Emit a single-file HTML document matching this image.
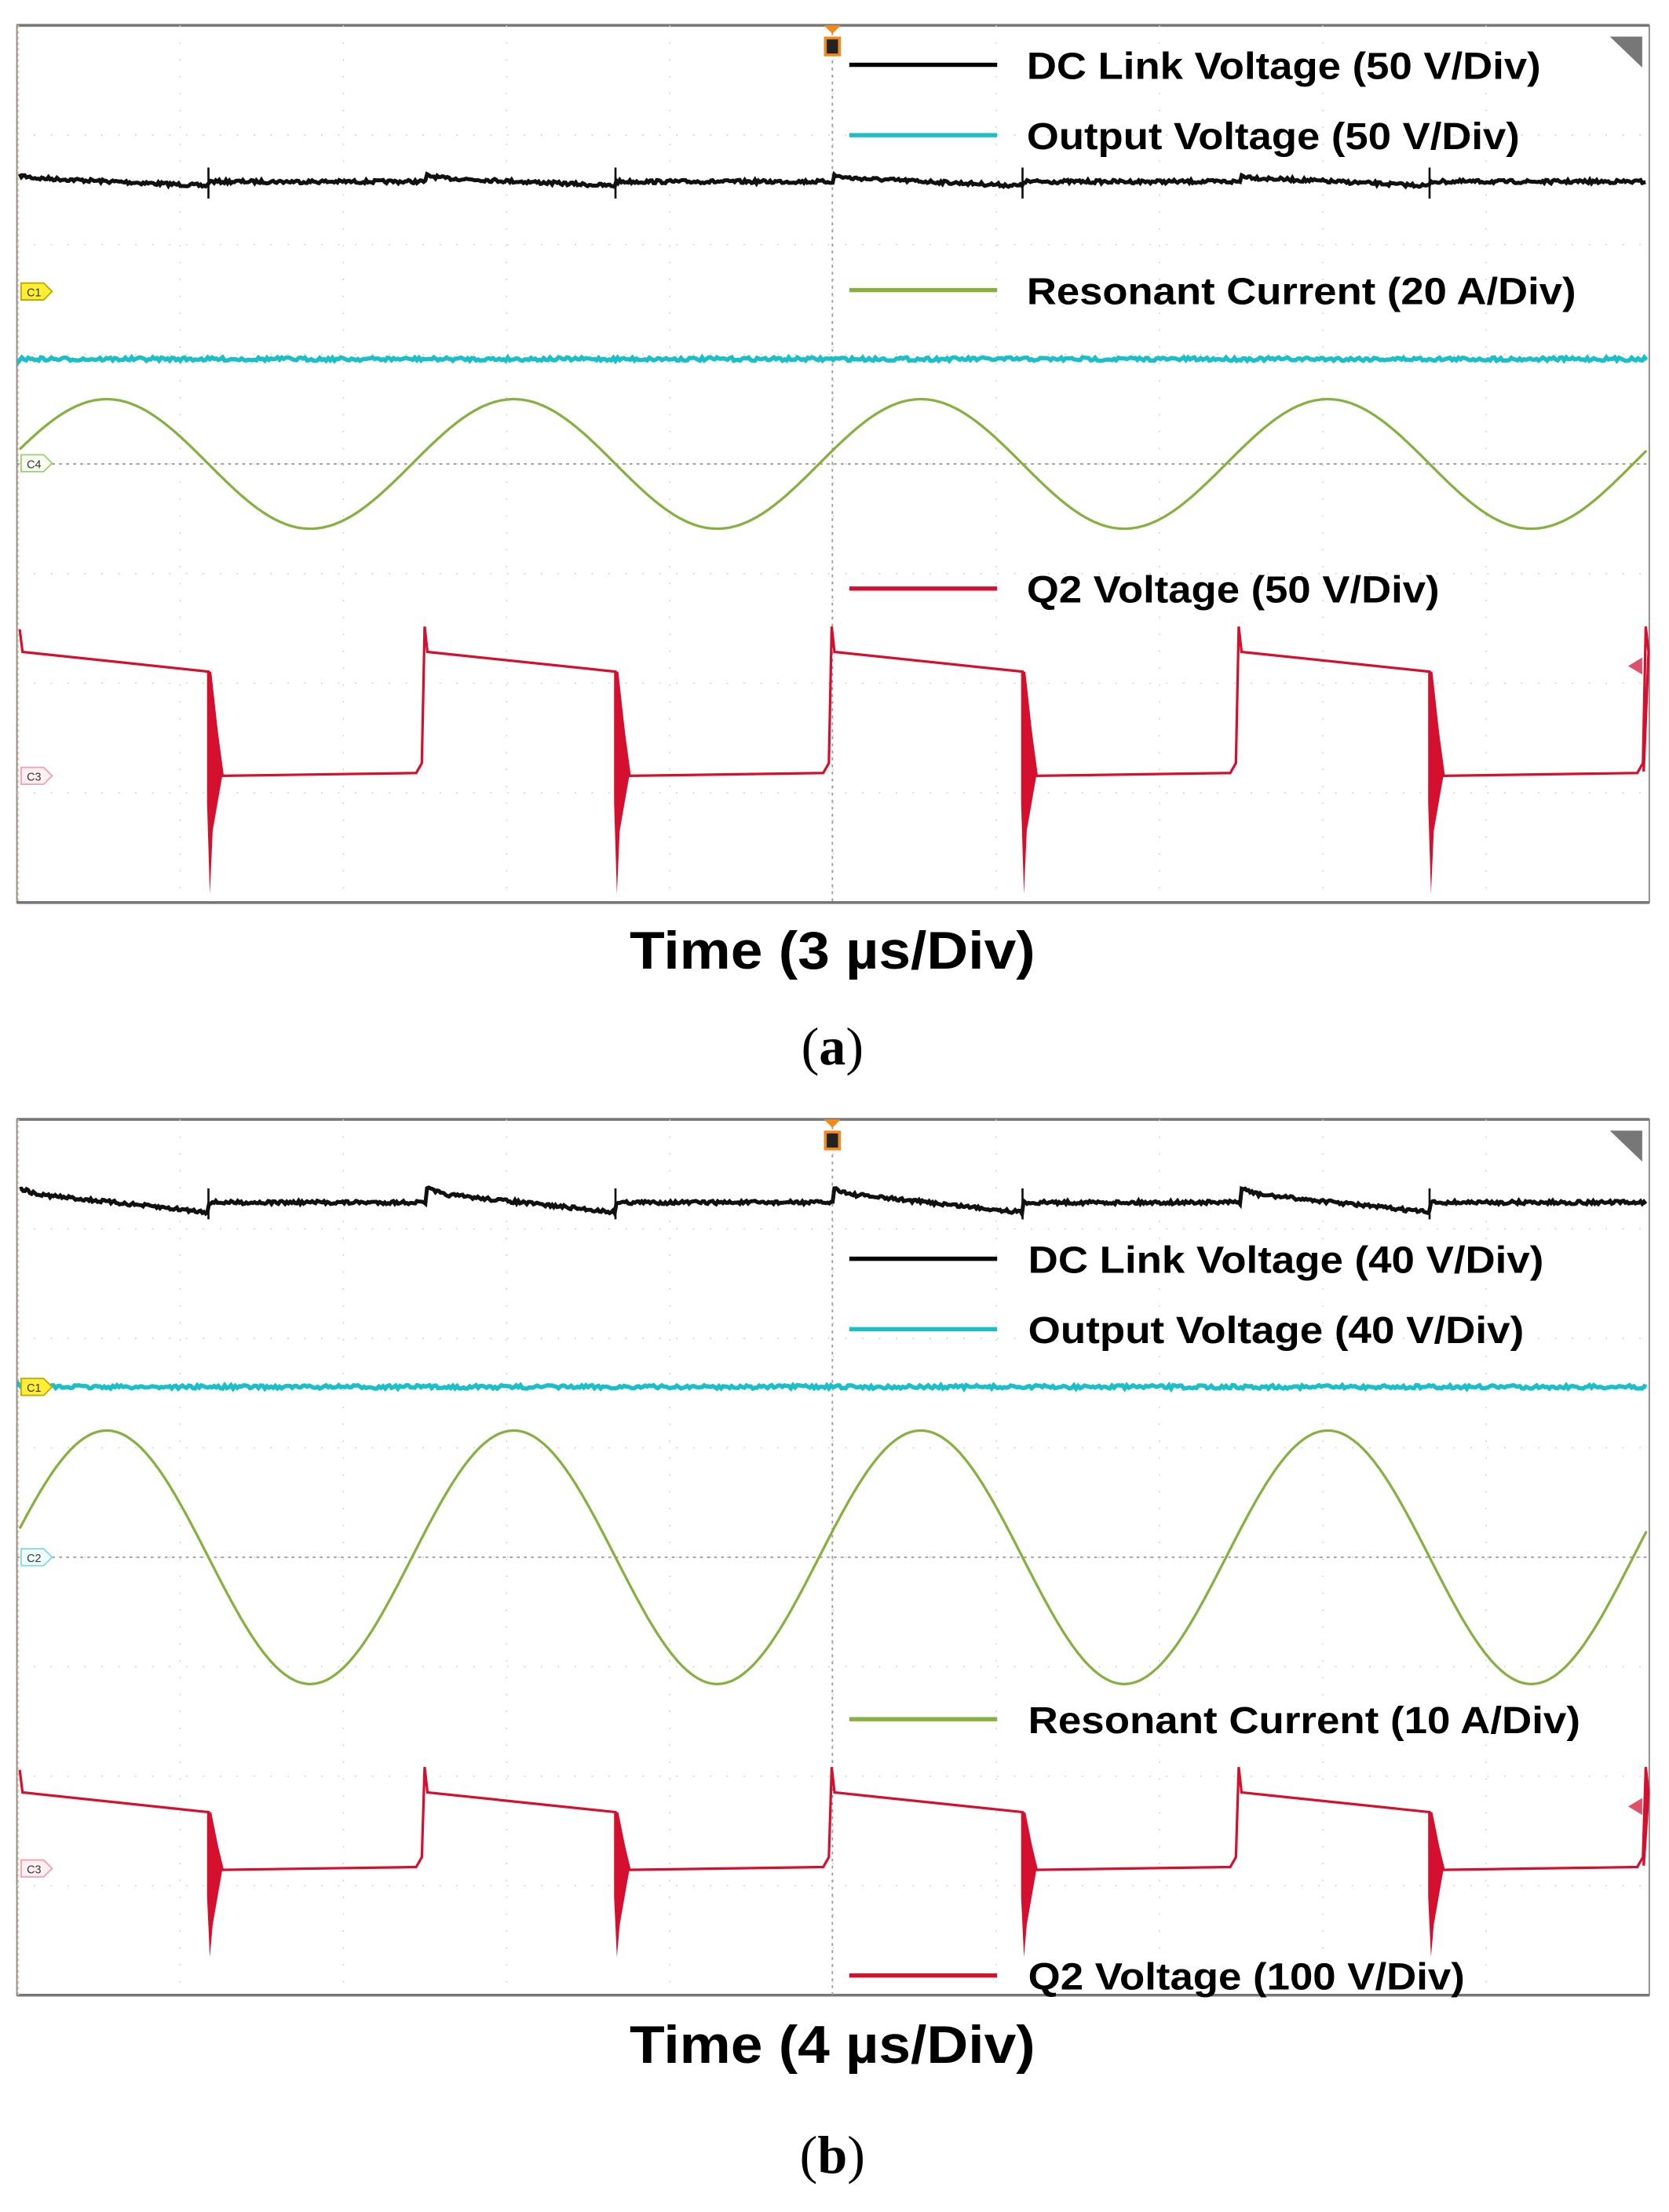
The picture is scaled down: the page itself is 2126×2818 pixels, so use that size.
<!DOCTYPE html>
<html><head><meta charset="utf-8">
<style>html,body{margin:0;padding:0;background:#fff}svg{display:block}</style>
</head><body>
<svg id="s" width="2126" height="2818" viewBox="0 0 1185 1571" preserveAspectRatio="none" xmlns="http://www.w3.org/2000/svg">
<rect width="1185" height="1571" fill="#fff"/>
<g id="g"></g>
<g font-family="Liberation Sans, Arial, sans-serif" font-weight="bold" font-size="27" fill="#000">
<line x1="603" y1="46" x2="708" y2="46" stroke="#000" stroke-width="3"/>
<text x="729" y="56" textLength="365" lengthAdjust="spacingAndGlyphs">DC Link Voltage (50 V/Div)</text>
<line x1="603" y1="96" x2="708" y2="96" stroke="#1bbfc8" stroke-width="3"/>
<text x="729" y="106" textLength="350" lengthAdjust="spacingAndGlyphs">Output Voltage (50 V/Div)</text>
<line x1="603" y1="206" x2="708" y2="206" stroke="#86b040" stroke-width="3"/>
<text x="729" y="216" textLength="390" lengthAdjust="spacingAndGlyphs">Resonant Current (20 A/Div)</text>
<line x1="603" y1="418" x2="708" y2="418" stroke="#d5102e" stroke-width="3"/>
<text x="729" y="428" textLength="293" lengthAdjust="spacingAndGlyphs">Q2 Voltage (50 V/Div)</text>

<line x1="603" y1="894" x2="708" y2="894" stroke="#000" stroke-width="3"/>
<text x="730" y="904" textLength="366" lengthAdjust="spacingAndGlyphs">DC Link Voltage (40 V/Div)</text>
<line x1="603" y1="944" x2="708" y2="944" stroke="#1bbfc8" stroke-width="3"/>
<text x="730" y="954" textLength="352" lengthAdjust="spacingAndGlyphs">Output Voltage (40 V/Div)</text>
<line x1="603" y1="1221" x2="708" y2="1221" stroke="#86b040" stroke-width="3"/>
<text x="730" y="1231" textLength="392" lengthAdjust="spacingAndGlyphs">Resonant Current (10 A/Div)</text>
<line x1="603" y1="1403" x2="708" y2="1403" stroke="#d5102e" stroke-width="3"/>
<text x="730" y="1413" textLength="310" lengthAdjust="spacingAndGlyphs">Q2 Voltage (100 V/Div)</text>

<text x="591" y="688" font-size="38" text-anchor="middle" textLength="288" lengthAdjust="spacingAndGlyphs">Time (3 µs/Div)</text>
<text x="591" y="1465" font-size="38" text-anchor="middle" textLength="288" lengthAdjust="spacingAndGlyphs">Time (4 µs/Div)</text>
</g>
<g font-family="Liberation Serif, serif" font-size="38" text-anchor="middle">
<text x="591" y="756"><tspan>(</tspan><tspan font-weight="bold">a</tspan><tspan>)</tspan></text>
<text x="591" y="1543"><tspan>(</tspan><tspan font-weight="bold">b</tspan><tspan>)</tspan></text>
</g>
</svg>
<script>
(function(){
var g=document.getElementById('g'),NS='http://www.w3.org/2000/svg';
function el(t,a){var e=document.createElementNS(NS,t);for(var k in a)e.setAttribute(k,a[k]);g.appendChild(e);return e;}
var seed=7;function rnd(){seed=(seed*16807)%2147483647;return seed/2147483647-0.5;}
function panel(T,B,o){
 var L=12,R=1171,W=R-L,H=B-T,cy=(T+B)/2;
 el('rect',{x:L,y:T,width:W,height:H,fill:'#fff',stroke:'#888',"stroke-width":1});
 el('line',{x1:L,y1:T,x2:R,y2:T,stroke:'#777',"stroke-width":2});
 el('line',{x1:L,y1:B,x2:R,y2:B,stroke:'#777',"stroke-width":2});
 el('line',{x1:L+1,y1:T,x2:L+1,y2:B,stroke:'#f2c89a',"stroke-width":1,"stroke-dasharray":"2,2"});
 for(var i=1;i<10;i++){var x=L+W*i/10;el('line',{x1:x,y1:T,x2:x,y2:B,stroke:'#ccc',"stroke-width":0.8,"stroke-dasharray":"1,11"});}
 for(var j=1;j<8;j++){var y=T+H*j/8;el('line',{x1:L,y1:y,x2:R,y2:y,stroke:'#ccc',"stroke-width":0.8,"stroke-dasharray":"1,11"});}
 el('line',{x1:L,y1:cy,x2:R,y2:cy,stroke:'#999',"stroke-width":1,"stroke-dasharray":"2,3"});
 el('line',{x1:591,y1:T,x2:591,y2:B,stroke:'#999',"stroke-width":1,"stroke-dasharray":"2,3"});
 el('polygon',{points:'585,'+T+' 597,'+T+' 591,'+(T+6),fill:'#f08a1c'});
 el('rect',{x:585,y:T+8,width:12,height:14,fill:'#f08a1c'});
 el('rect',{x:587,y:T+10,width:8,height:10,fill:'#222'});
 el('polygon',{points:'1143,'+(T+8)+' 1166,'+(T+8)+' 1166,'+(T+30),fill:'#777'});
 var P=289,s0=148;
 // black: sloped during red-high intervals, flat during red-low
 var d='';
 for(var x=14;x<=1169;x+=1.2){var y;
  var hc=((x-(s0-P+155))%P+P)%P; // time since rising edge (~303 etc)
  if(hc<134){ y=o.k0-o.sl*0.5+hc*o.sl/134; if(hc<12) y-= (12-hc)*0.15*(o.sl/8); }
  else y=o.k0;
  d+=(d?' L':'M')+x.toFixed(1)+' '+(y+rnd()*2.4).toFixed(1);}
 el('path',{d:d,fill:'none',stroke:'#111',"stroke-width":2.8});
 for(var n=0;n<4;n++){var sx=s0+n*P;el('line',{x1:sx,y1:o.k0-10,x2:sx,y2:o.k0+12,stroke:'#111',"stroke-width":1.5});}
 // cyan
 d='M14 '+o.c;for(x=14;x<=1169;x+=1.5)d+=' L'+x.toFixed(1)+' '+(o.c+rnd()*2.5).toFixed(1);
 el('path',{d:d,fill:'none',stroke:'#1bbfc8',"stroke-width":3});
 // green
 d='';for(x=14;x<=1169;x+=1){var y=cy+o.a*Math.sin(2*Math.PI*(x-s0)/P);d+=(d?' L':'M')+x+' '+y.toFixed(1);}
 el('path',{d:d,fill:'none',stroke:'#86b040',"stroke-width":1.8});
 // red
 var hi=o.rh,lo=o.rl;
 d='M14 '+(hi-16)+' L16 '+hi+' L148 '+(hi+14);
 for(n=0;n<4;n++){var f=s0+n*P,r=f+P/2+7;
  d+=' L'+(f+10)+' '+(lo+1)+' L'+(r-4)+' '+(lo-1)+' L'+r+' '+(lo-8)+' L'+(r+2)+' '+(hi-18)+' L'+(r+4)+' '+hi;
  var nf=s0+(n+1)*P; if(nf<1170) d+=' L'+nf+' '+(hi+14); else d+=' L1167 '+(lo-2)+' L1169 '+(lo-60);}
 el('path',{d:d,fill:'none',stroke:'#d5102e',"stroke-width":1.8});
 for(n=0;n<4;n++){var f=s0+n*P;
  el('polygon',{points:(f-1)+','+(hi+14)+' '+(f+2)+','+(hi+14)+' '+(f+10)+','+lo+' '+(f+3)+','+(lo+40)+' '+(f+1)+','+o.rs+' '+(f-1)+','+(lo+20),fill:'#d5102e'});}
 el('polygon',{points:'1156,'+(o.rh+10)+' 1166,'+(o.rh+4)+' 1166,'+(o.rh+16),fill:'#e0506a'});
 function mk(y,fc,sc,t){el('polygon',{points:'15,'+(y-6)+' 31,'+(y-6)+' 37,'+y+' 31,'+(y+6)+' 15,'+(y+6),fill:fc,stroke:sc,"stroke-width":1});
  var tx=el('text',{x:19,y:y+3.5,"font-size":8,"font-family":"Liberation Sans, sans-serif",fill:'#333'});tx.textContent=t;}
 o.m.forEach(function(m){mk(m[0],m[1],m[2],m[3]);});
}
panel(18,641,{k0:129,sl:6,c:255,a:46,rh:463,rl:550,rs:635,m:[[207,'#ffee33','#bba800','C1'],[329,'#f6fff0','#9ccf70','C4'],[551,'#fff0f3','#f0a0b0','C3']]});
panel(795,1417,{k0:854,sl:14,c:985,a:90,rh:1273,rl:1327,rs:1390,m:[[985,'#ffee33','#bba800','C1'],[1106,'#f0ffff','#80d8e0','C2'],[1327,'#fff0f3','#f0a0b0','C3']]});
})();
</script>
</body></html>
